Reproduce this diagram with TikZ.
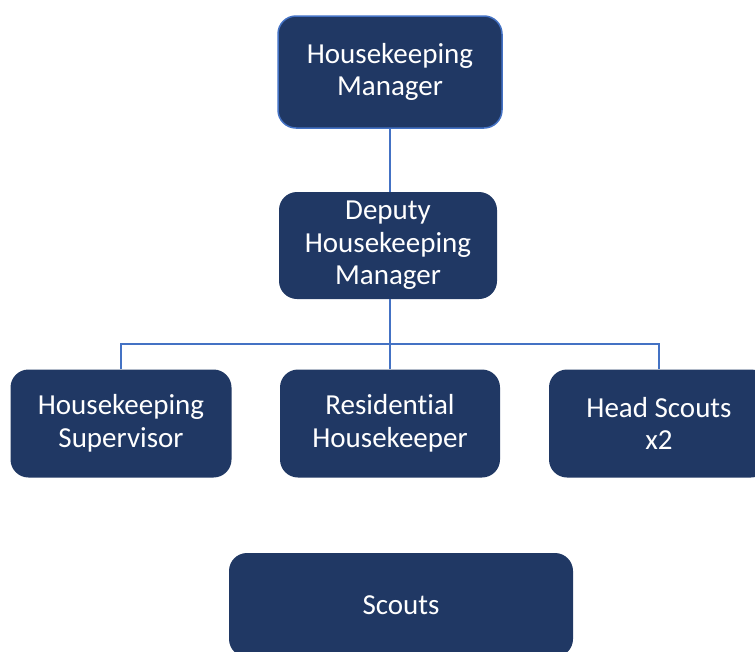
\documentclass[tikz,border=0pt]{standalone}
\usepackage{fontspec}
\setmainfont[Ligatures=CommonOff]{Carlito}
\definecolor{navy}{HTML}{203864}
\definecolor{linkblue}{HTML}{4472C4}
\begin{document}
\begin{tikzpicture}[x=1pt,y=-1pt,
  box/.style={fill=navy, rounded corners=18pt, text=white, align=center,
    inner sep=0pt, font=\fontsize{29}{32.5}\selectfont},
  link/.style={draw=linkblue, line width=2pt}]
\useasboundingbox (0,0) rectangle (755,651);
\clip (0,0) rectangle (755,651);
\node[box, draw=linkblue, line width=1.5pt, minimum width=224pt, minimum height=112pt] (top) at (390,72) {Housekeeping\\Manager};
\node[box, minimum width=218pt, minimum height=107pt] (dep) at (388,245.5) {Deputy\\Housekeeping\\Manager};
\node[box, minimum width=221pt, minimum height=108pt] (hs) at (121,423.5) {Housekeeping\\Supervisor};
\node[box, minimum width=220pt, minimum height=108pt] (rh) at (390,423.5) {Residential\\Housekeeper};
\node[box, minimum width=220pt, minimum height=108pt] (hx) at (659,423.5) {Head Scouts\\x2};
\node[box, minimum width=344pt, minimum height=104pt] (sc) at (401,605) {Scouts};
\coordinate (bus) at (390,344);
\draw[link] (top.south -| bus) -- (bus |- dep.north);
\draw[link] (bus |- dep.south) -- (bus |- rh.north);
\draw[link] (hs.north) |- (bus) -| (hx.north);
\end{tikzpicture}
\end{document}
